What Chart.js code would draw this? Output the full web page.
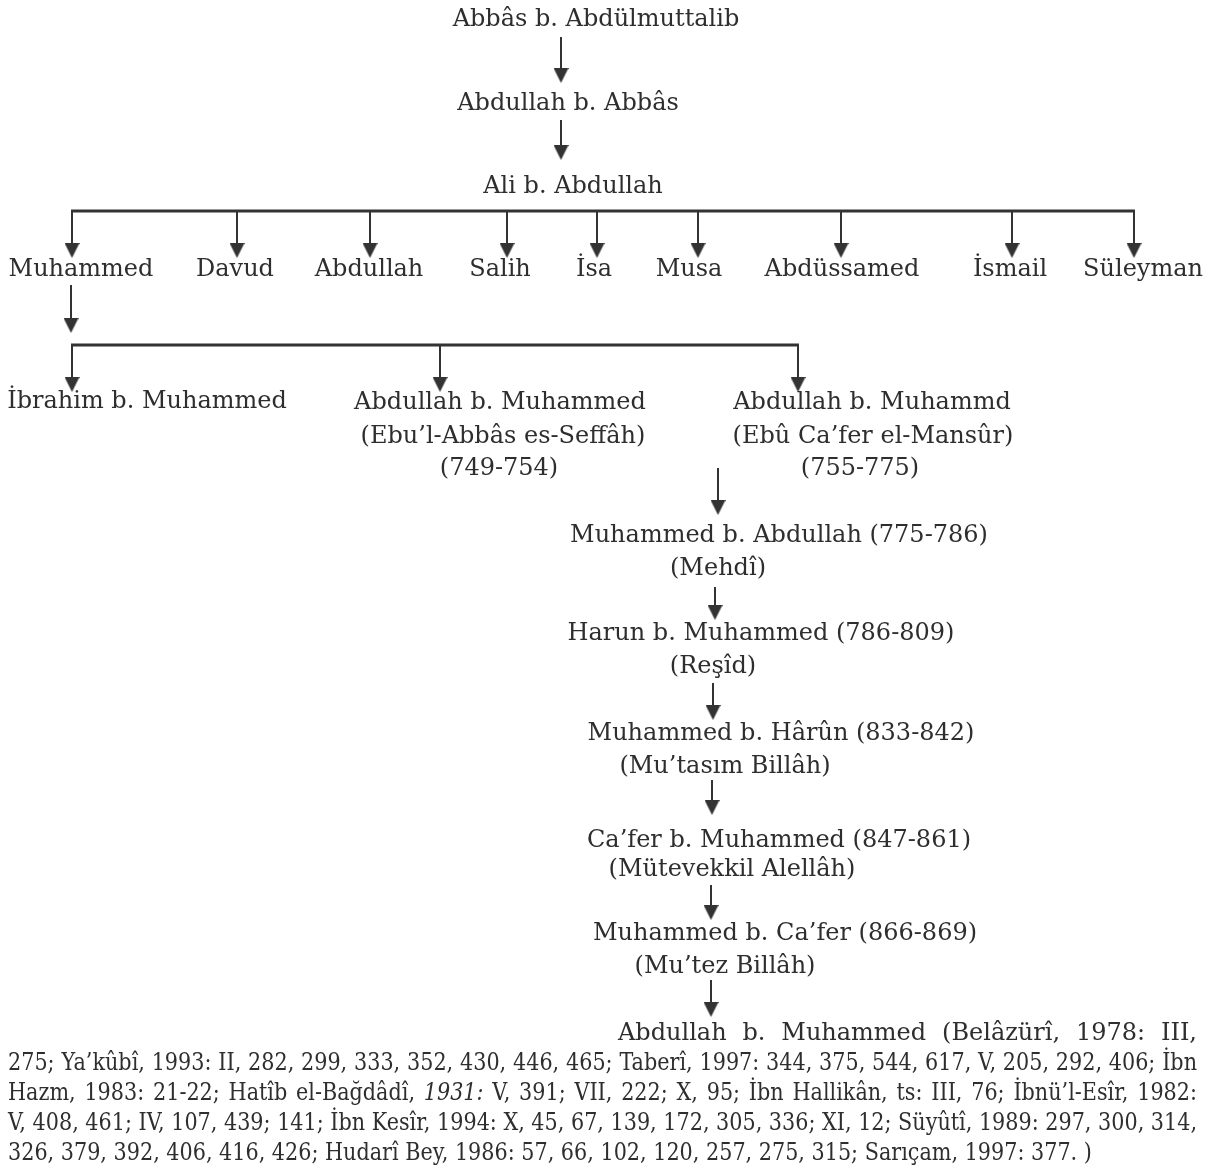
<!DOCTYPE html>
<html>
<head>
<meta charset="utf-8">
<script src="https://cdn.jsdelivr.net/npm/chart.js@4.4.1/dist/chart.umd.min.js"></script>
<style>
    html, body { margin: 0; padding: 0; background: #fff; }
    canvas { display: block; }
</style>
</head>
<body>
<canvas id="tree" width="1215" height="1167"></canvas>
<script>
// Names in the tree
const ancestors = ['Abbâs b. Abdülmuttalib', 'Abdullah b. Abbâs', 'Ali b. Abdullah'];
const sons = ['Muhammed', 'Davud', 'Abdullah', 'Salih', 'İsa', 'Musa', 'Abdüssamed', 'İsmail', 'Süleyman'];
const grandsons = [
    ['İbrahim b. Muhammed'],
    ['Abdullah b. Muhammed', '(Ebu’l-Abbâs es-Seffâh)', '(749-754)'],
    ['Abdullah b. Muhammd', '(Ebû Ca’fer el-Mansûr)', '(755-775)']
];
const caliphs = [
    ['Muhammed b. Abdullah (775-786)', '(Mehdî)'],
    ['Harun b. Muhammed (786-809)', '(Reşîd)'],
    ['Muhammed b. Hârûn (833-842)', '(Mu’tasım Billâh)'],
    ['Ca’fer b. Muhammed (847-861)', '(Mütevekkil Alellâh)'],
    ['Muhammed b. Ca’fer (866-869)', '(Mu’tez Billâh)']
];
const lastCaliph = 'Abdullah b. Muhammed';
const sources = [
    '(Belâzürî, 1978: III,',
    '275; Ya’kûbî, 1993: II, 282, 299, 333, 352, 430, 446, 465; Taberî, 1997: 344, 375, 544, 617, V, 205, 292, 406; İbn',
    'Hazm, 1983: 21-22;  Hatîb el-Bağdâdî, 1931: V, 391; VII, 222; X, 95; İbn Hallikân, ts: III, 76; İbnü’l-Esîr, 1982:',
    'V, 408, 461; IV, 107, 439; 141; İbn Kesîr, 1994: X, 45, 67,  139, 172, 305, 336; XI, 12; Süyûtî,  1989: 297, 300, 314,',
    '326, 379, 392, 406, 416, 426; Hudarî Bey, 1986: 57, 66, 102, 120, 257, 275, 315; Sarıçam, 1997: 377. )'
];

// Layout (page units, y grows downward)
const ancestorPos = [[596, 18], [568, 102], [573, 185]];
const sonX = [81, 235, 369, 500, 594, 689, 842, 1010, 1143];
const sonY = 268;
const grandsonPos = [
    [[147, 400]],
    [[500, 401], [503, 435], [499, 467]],
    [[872, 401], [873, 435], [860, 467]]
];
const caliphPos = [
    [[779, 534], [718, 567]],
    [[761, 632], [713, 665]],
    [[781, 732], [725, 765]],
    [[779, 839], [732, 868]],
    [[785, 932], [725, 965]]
];
const sourceLeft = [618, 8, 8, 8, 8];
const sourceRight = 1197;
const sourceY = [1032, 1062, 1092, 1122, 1152];

// connectors: [x, yFrom, yTip]
const arrows = [
    [561, 37, 83], [561, 120, 160],
    [71, 285, 333],
    [718, 468, 515], [715, 587, 620], [713, 683, 720],
    [712, 780, 815], [711, 885, 920], [711, 980, 1017]
];
const sonDropX = [72, 237, 370, 507, 597, 698, 841, 1012, 1134];
const grandsonDropX = [72, 440, 798];
// bars: [xFrom, xTo, y]
const bars = [[72, 1134, 211], [72, 798, 345]];
const sonDrop = [211, 258];
const grandsonDrop = [345, 392];

const INK = '#2e2e2e';
const LINE = '#333333';
const FONT_FAMILY = '"DejaVu Serif", serif';
const FONT_SIZE = 24;
const TEXT_DY = 2; // 'middle' baseline sits a touch high for this face

function arrowHead(w, h, color) {
    // tip sits at the centre of the image so the point value is the tip
    const c = document.createElement('canvas');
    c.width = w;
    c.height = h * 2;
    const g = c.getContext('2d');
    g.fillStyle = color;
    g.beginPath();
    g.moveTo(0, 0);
    g.lineTo(w, 0);
    g.lineTo(w / 2, h);
    g.closePath();
    g.fill();
    return c;
}

// Build segments and arrow tips
const segments = [];
const tips = [];
arrows.forEach(([x, y1, y2]) => {
    segments.push({ pts: [[x, y1], [x, y2 - 4]], w: 2 });
    tips.push({ x: x, y: y2 });
});
bars.forEach(([x1, x2, y]) => segments.push({ pts: [[x1 - 1, y], [x2 + 1, y]], w: 3 }));
sonDropX.forEach(x => {
    segments.push({ pts: [[x, sonDrop[0]], [x, sonDrop[1] - 4]], w: 2 });
    tips.push({ x: x, y: sonDrop[1] });
});
grandsonDropX.forEach(x => {
    segments.push({ pts: [[x, grandsonDrop[0]], [x, grandsonDrop[1] - 4]], w: 2 });
    tips.push({ x: x, y: grandsonDrop[1] });
});

const datasets = segments.map(s => ({
    data: s.pts.map(([x, y]) => ({ x, y })),
    showLine: true,
    borderColor: LINE,
    borderWidth: s.w,
    pointRadius: 0,
    pointHoverRadius: 0
}));
datasets.push({
    data: tips,
    showLine: false,
    pointStyle: arrowHead(15, 15, LINE),
    pointRadius: 8
});

// Text labels
const labelItems = [];
ancestors.forEach((t, i) => labelItems.push({ text: t, cx: ancestorPos[i][0], cy: ancestorPos[i][1] }));
sons.forEach((t, i) => labelItems.push({ text: t, cx: sonX[i], cy: sonY }));
grandsons.forEach((lines, i) => lines.forEach((t, j) =>
    labelItems.push({ text: t, cx: grandsonPos[i][j][0], cy: grandsonPos[i][j][1] })));
caliphs.forEach((lines, i) => lines.forEach((t, j) =>
    labelItems.push({ text: t, cx: caliphPos[i][j][0], cy: caliphPos[i][j][1] })));

const treeText = {
    id: 'treeText',
    afterDatasetsDraw(chart) {
        const { ctx, scales: { x, y } } = chart;
        ctx.save();
        ctx.fillStyle = INK;
        ctx.font = FONT_SIZE + 'px ' + FONT_FAMILY;
        ctx.textBaseline = 'middle';
        ctx.textAlign = 'center';
        labelItems.forEach(it => {
            ctx.fillText(it.text, x.getPixelForValue(it.cx), y.getPixelForValue(it.cy) + TEXT_DY);
        });

        // justified source block
        ctx.textAlign = 'left';
        const right = x.getPixelForValue(sourceRight);
        const blockLines = sources.map((s, i) => i === 0 ? lastCaliph + ' ' + s : s);
        const words = blockLines.map(s => s.trim().split(/\s+/));
        const natural = words.map(ws => ctx.measureText(ws.join(' ')).width);
        // squeeze all lines by the same factor so the full lines fit
        let squeeze = 1;
        for (let i = 1; i < blockLines.length - 1; i++) {
            const target = right - x.getPixelForValue(sourceLeft[i]);
            squeeze = Math.min(squeeze, target / natural[i]);
        }
        const space = ctx.measureText(' ').width;
        blockLines.forEach((line, i) => {
            const ws = words[i];
            const left = x.getPixelForValue(sourceLeft[i]);
            const f = i === 0 ? 1 : squeeze;
            const wordW = ws.map(w => ctx.measureText(w).width);
            const sum = wordW.reduce((a, b) => a + b, 0);
            let gap = space;
            if (i < blockLines.length - 1 && ws.length > 1) {
                gap = ((right - left) / f - sum) / (ws.length - 1);
            }
            ctx.save();
            ctx.translate(left, y.getPixelForValue(sourceY[i]) + TEXT_DY);
            ctx.scale(f, 1);
            let cursor = 0;
            ws.forEach((w, k) => {
                const italic = w === '1931:';
                if (italic) ctx.font = 'italic ' + FONT_SIZE + 'px ' + FONT_FAMILY;
                ctx.fillText(w, cursor, 0);
                if (italic) ctx.font = FONT_SIZE + 'px ' + FONT_FAMILY;
                cursor += wordW[k] + gap;
            });
            ctx.restore();
        });
        ctx.restore();
    }
};

new Chart(document.getElementById('tree').getContext('2d'), {
    type: 'scatter',
    data: { datasets: datasets },
    options: {
        responsive: false,
        devicePixelRatio: 1,
        animation: false,
        layout: { padding: 0, autoPadding: false },
        events: [],
        plugins: {
            legend: { display: false },
            tooltip: { enabled: false }
        },
        scales: {
            x: { type: 'linear', min: 0, max: 1215, display: false },
            y: { type: 'linear', min: 0, max: 1167, reverse: true, display: false }
        }
    },
    plugins: [treeText]
});
</script>
</body>
</html>
